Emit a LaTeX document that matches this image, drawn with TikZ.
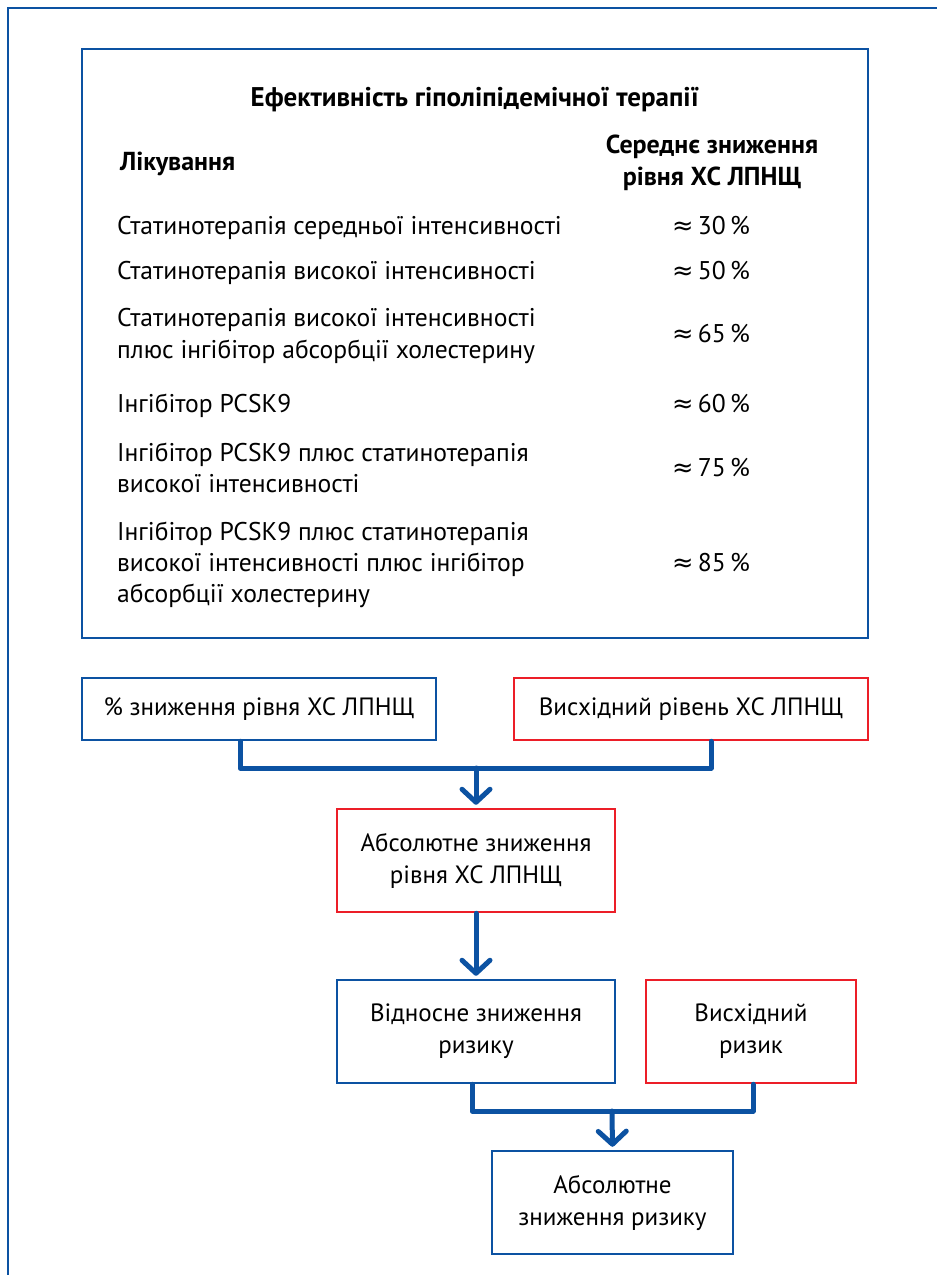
\documentclass[tikz,border=0pt]{standalone}
\usepackage{fontspec}
\setmainfont{PT Sans}
\newfontfamily\symfont{DejaVu Sans}
\usetikzlibrary{arrows.meta}
\definecolor{cblue}{RGB}{12,82,162}
\definecolor{cred}{RGB}{236,30,40}
\newcommand{\apx}{{\symfont ≈}}
\begin{document}
\begin{tikzpicture}[x=1pt,y=-1pt,
  frame/.style={draw=cblue, line width=2.5pt},
  ttext/.style={font=\fontsize{25.6}{31}\selectfont, inner sep=0pt, anchor=base west},
  tval/.style={font=\fontsize{25.6}{31}\selectfont, inner sep=0pt, anchor=base},
  thead/.style={font=\fontsize{26}{31}\selectfont\bfseries, inner sep=0pt, anchor=base},
  bbox/.style={draw=cblue, line width=2.5pt, align=center, inner sep=0pt,
    font=\fontsize{25}{32}\selectfont},
  rbox/.style={bbox, draw=cred},
  conn/.style={draw=cblue, line width=5pt, line join=round, line cap=round},
  arr/.style={conn, -{Straight Barb[length=13pt, width=28pt, round]}, shorten >=3pt}
]
\clip (0,0) rectangle (937,1275);
\fill[white] (0,0) rectangle (937,1275);
% outer frame (only left and top edges visible)
\draw[frame] (8,1320) -- (8,8) -- (960,8);
% table box
\node[frame, minimum width=786pt, minimum height=589pt, inner sep=0pt] (tbl) at (475,343.5) {};
\node[thead, font=\fontsize{27}{31}\selectfont\bfseries] (title) at (475,106) {Ефективність гіполіпідемічної терапії};
\node[thead, anchor=base west] (hl) at (120,170) {Лікування};
\node[thead] (hr1) at (712,153) {Середнє зниження};
\node[thead] (hr2) at (712,185) {рівня ХС ЛПНЩ};
% rows
\node[ttext] (r1) at (117,234) {Статинотерапія середньої інтенсивності};
\node[tval] (v1) at (711,234) {\apx\,30\,\%};
\node[ttext] (r2) at (117,279) {Статинотерапія високої інтенсивності};
\node[tval] (v2) at (711,279) {\apx\,50\,\%};
\node[ttext] (r3a) at (117,326) {Статинотерапія високої інтенсивності};
\node[ttext] (r3b) at (117,358) {плюс інгібітор абсорбції холестерину};
\node[tval] (v3) at (711,342) {\apx\,65\,\%};
\node[ttext] (r4) at (117,412) {Інгібітор PCSK9};
\node[tval] (v4) at (711,412) {\apx\,60\,\%};
\node[ttext] (r5a) at (117,461) {Інгібітор PCSK9 плюс статинотерапія};
\node[ttext] (r5b) at (117,492) {високої інтенсивності};
\node[tval] (v5) at (711,476) {\apx\,75\,\%};
\node[ttext] (r6a) at (117,540) {Інгібітор PCSK9 плюс статинотерапія};
\node[ttext] (r6b) at (117,571) {високої інтенсивності плюс інгібітор};
\node[ttext] (r6c) at (117,602) {абсорбції холестерину};
\node[tval] (v6) at (711,571) {\apx\,85\,\%};
% flowchart boxes
\node[bbox, minimum width=354pt, minimum height=62pt] (A) at (259,709) {\%\ зниження рівня ХС ЛПНЩ};
\node[rbox, minimum width=354pt, minimum height=62pt] (B) at (691,709) {Висхідний рівень ХС ЛПНЩ};
\node[rbox, minimum width=278pt, minimum height=103pt] (C) at (476,860.5) {Абсолютне зниження\\рівня ХС ЛПНЩ};
\node[bbox, minimum width=278pt, minimum height=103pt] (D) at (476,1031.5) {Відносне зниження\\ризику};
\node[rbox, minimum width=210pt, minimum height=103pt] (E) at (751,1031.5) {Висхідний\\ризик};
\node[bbox, minimum width=241pt, minimum height=103pt] (F) at (612.5,1202.5) {Абсолютне\\зниження ризику};
% connectors
\coordinate (j1) at (476,768);
\coordinate (j2) at (612,1111);
\draw[conn] ([xshift=-19pt]A.south) |- (j1) -| ([xshift=20pt]B.south);
\draw[arr] (j1) -- (C.north);
\draw[arr] (C.south) -- (D.north);
\draw[conn] ([xshift=-4pt]D.south) |- (j2) -| ([xshift=2pt]E.south);
\draw[arr] (j2) -- (F.north);
\end{tikzpicture}
\end{document}
